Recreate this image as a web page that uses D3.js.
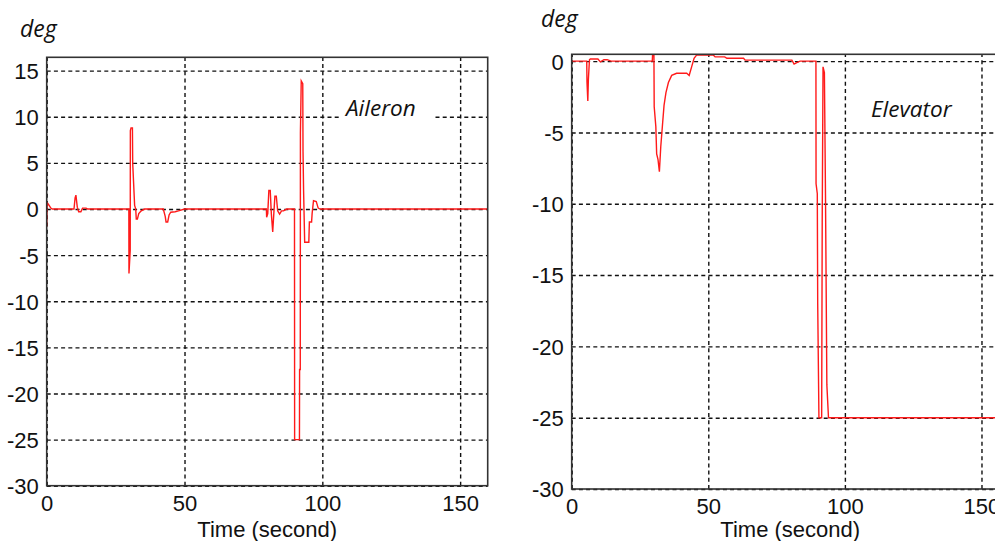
<!DOCTYPE html>
<html>
<head>
<meta charset="utf-8">
<script src="https://cdn.jsdelivr.net/npm/d3@7/dist/d3.min.js"></script>
<style>
  html, body { margin: 0; padding: 0; background: #fff; }
  svg { display: block; }
</style>
</head>
<body>
<svg id="chart" width="995" height="541"></svg>
<script>
// ---- Data ----
const xTicks = [0, 50, 100, 150];
const aileronYTicks = [15, 10, 5, 0, -5, -10, -15, -20, -25, -30];
const elevatorYTicks = [0, -5, -10, -15, -20, -25, -30];

const aileronTime = [0, 0.15, 0.4, 1.0, 1.5, 2.0,
  9.9, 10.3, 10.6, 11.1, 11.6, 12.4, 13.0, 14.3, 14.8,
  29.8, 29.85, 30.3, 30.35, 30.6, 31.1, 31.2, 31.9, 32.3, 32.5, 32.9, 33.4, 34.3, 35.5,
  42.3, 43.0, 43.3, 43.9, 44.4, 45.0, 46.6, 47.8, 50,
  79.7, 79.8, 80.2, 80.6, 81.1, 81.5, 82.0, 82.4, 82.8, 83.3, 83.8, 84.5, 85.2, 85.9, 87.1,
  89.9, 89.95, 91.7, 91.75, 92.0, 92.05, 92.35, 92.9, 93.0, 93.2, 93.6, 95.1, 95.3, 96.1, 96.3, 96.8, 97.8, 98.5, 99.2,
  160];
const aileronValue = [-1.9, 0.3, 0.6, 0.35, 0.1, 0,
  0, 1.2, 1.5, 0.2, -0.3, -0.3, 0.1, 0.1, 0,
  0, -7.0, -4.5, 8.5, 8.8, 8.8, 5.0, 0.4, 0, -1.1, -1.1, -0.5, -0.2, 0,
  0, -0.8, -1.4, -1.4, -0.65, -0.35, -0.3, -0.2, 0,
  0, -0.9, -0.5, 2.0, 2.0, -0.5, -2.5, -0.5, 1.4, 1.4, -0.2, -0.55, -0.2, -0.2, 0,
  0, -25, -25, -17.4, -17.4, 8.3, 13.9, 13.6, 6.2, 2.0, -3.6, -3.6, -1.4, -1.4, -0.5, 0.9, 0.8, 0.1, 0,
  0];

const elevatorTime = [0, 5.5, 5.6, 5.9, 6.1, 6.5, 6.8, 9.6, 10.5, 11.8, 13, 14.4,
  29.5, 29.6, 30.1, 30.2, 30.8, 31.1, 31.6, 32.1, 32.6, 33.3, 33.8, 34.5, 35.4, 36.6, 38.4, 42.1, 43.0, 43.9, 44.8, 45.7,
  51.9, 52.5, 56.0, 56.8, 62.9, 63.5, 80.6, 81.4, 82.4, 83.6,
  89.4, 89.45, 89.9, 90.05, 90.5, 91.5, 91.7, 92.0, 92.5, 92.9, 93.4, 94.0, 160];
const elevatorValue = [0, 0, -1.5, -2.8, -1.3, 0.1, 0.15, 0.15, -0.05, 0.1, 0.1, 0,
  0, 0.42, 0.42, -3.2, -4.6, -6.5, -6.9, -7.75, -6.0, -4.3, -3.1, -2.2, -1.5, -1.0, -0.85, -0.85, -1.0, -0.4, 0.2, 0.42,
  0.42, 0.3, 0.3, 0.2, 0.2, 0.07, 0.07, -0.2, -0.1, 0,
  0, -8.6, -9.3, -17, -25, -25, -11.3, -0.4, -0.8, -9.4, -22.7, -25, -25];

// ---- Drawing ----
const svg = d3.select("#chart");
svg.append("rect").attr("width", 995).attr("height", 541).attr("fill", "#fff");

const tickFont = "'Liberation Sans', Arial, sans-serif";
const italicFont = "'Open Sans', 'DejaVu Sans', sans-serif";
const fmt = d => String(d); // plain hyphen-minus like the reference

function panel(cfg) {
  const g = svg.append("g");
  const x = d3.scaleLinear().domain([0, 160]).range([cfg.left, cfg.right]);
  const y = d3.scaleLinear().domain(cfg.yDomain).range([cfg.bottom, cfg.top]);

  // grid lines
  const xAxisGrid = d3.axisBottom(x).tickValues(xTicks).tickSize(-(cfg.bottom - cfg.top)).tickFormat("");
  const gx = g.append("g").attr("transform", `translate(0,${cfg.bottom})`).call(xAxisGrid);
  gx.select(".domain").remove();
  gx.selectAll(".tick line").attr("stroke", "#111").attr("stroke-width", 1.4).attr("stroke-dasharray", "4,3.2");

  const yAxisGrid = d3.axisLeft(y).tickValues(cfg.yTicks).tickSize(-(cfg.right - cfg.left)).tickFormat("");
  const gy = g.append("g").attr("transform", `translate(${cfg.left},0)`).call(yAxisGrid);
  gy.select(".domain").remove();
  gy.selectAll(".tick line").attr("stroke", "#111").attr("stroke-width", 1.4).attr("stroke-dasharray", "4,3.2");

  // label background (hides grid behind it)
  if (cfg.labelBg) {
    g.append("rect").attr("x", cfg.labelBg[0]).attr("y", cfg.labelBg[1])
      .attr("width", cfg.labelBg[2]).attr("height", cfg.labelBg[3]).attr("fill", "#fff");
  }

  // data line
  const pts = cfg.t.map((t, i) => [t, cfg.v[i]]);
  const line = d3.line().x(d => x(d[0])).y(d => y(d[1]));
  g.append("path").datum(pts).attr("d", line)
    .attr("fill", "none").attr("stroke", "#ff1a1a").attr("stroke-width", 1.4)
    .attr("stroke-linejoin", "miter");

  // frame
  g.append("rect").attr("x", cfg.left).attr("y", cfg.top)
    .attr("width", cfg.right - cfg.left).attr("height", cfg.bottom - cfg.top)
    .attr("fill", "none").attr("stroke", "#333").attr("stroke-width", 1.6);

  // tick labels
  const xl = d3.axisBottom(x).tickValues(xTicks).tickSize(0).tickPadding(0).tickFormat(fmt);
  const gxl = g.append("g").attr("transform", `translate(0,${cfg.bottom})`).call(xl);
  gxl.select(".domain").remove();
  gxl.selectAll("text").attr("font-family", tickFont).attr("font-size", 22).attr("fill", "#111")
    .attr("dy", null).attr("y", 25);

  const yl = d3.axisLeft(y).tickValues(cfg.yTicks).tickSize(0).tickPadding(8).tickFormat(fmt);
  const gyl = g.append("g").attr("transform", `translate(${cfg.left},0)`).call(yl);
  gyl.select(".domain").remove();
  gyl.selectAll("text").attr("font-family", tickFont).attr("font-size", 22).attr("fill", "#111")
    .attr("dy", "0.36em");

  // x title
  g.append("text").attr("x", (cfg.left + cfg.right) / 2).attr("y", 537)
    .attr("text-anchor", "middle").attr("font-family", tickFont).attr("font-size", 22)
    .attr("fill", "#111").text("Time (second)");

  // deg
  g.append("text").attr("x", cfg.degX).attr("y", cfg.degY)
    .attr("font-family", italicFont).attr("font-style", "italic").attr("font-size", 23)
    .attr("fill", "#111").text("deg");

  // name
  g.append("text").attr("x", cfg.nameX).attr("y", cfg.nameY)
    .attr("font-family", italicFont).attr("font-style", "italic").attr("font-size", 22.5)
    .attr("fill", "#111").text(cfg.name);
}

panel({
  left: 46.7, right: 487.7, top: 57.3, bottom: 485.7,
  yDomain: [-30, 16.45], yTicks: aileronYTicks,
  t: aileronTime, v: aileronValue,
  degX: 20, degY: 37, name: "Aileron", nameX: 346, nameY: 116,
  labelBg: [340, 94, 94, 28]
});

panel({
  left: 571.7, right: 1008.8, top: 54.3, bottom: 489,
  yDomain: [-30, 0.48], yTicks: elevatorYTicks,
  t: elevatorTime, v: elevatorValue,
  degX: 541, degY: 27, name: "Elevator", nameX: 871, nameY: 117
});
</script>
</body>
</html>
